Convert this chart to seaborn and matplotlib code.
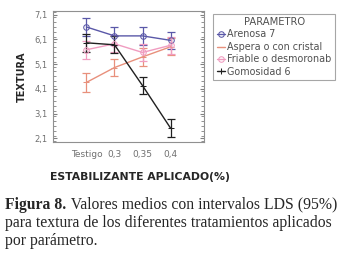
import pandas as pd
import matplotlib.pyplot as plt
import seaborn as sns
import numpy as np
from matplotlib.ticker import MultipleLocator, FixedLocator

# data
tratamientos = ['Testigo', '0,3', '0,35', '0,4']
parametros = ['Arenosa 7', 'Aspera o con cristal', 'Friable o desmoronab', 'Gomosidad 6']
arenosa = [6.60, 6.24, 6.24, 6.06]
aspera = [4.36, 4.96, 5.39, 5.80]
friable = [5.68, 5.92, 5.57, 5.86]
gomosidad = [5.96, 5.88, 4.23, 2.51]
lds = [0.37, 0.35, 0.36, 0.35]

colores = ['#5a58a8', '#e8907c', '#f09cc0', '#202020']
marcadores = ['o', '_', 'o', '+']

df = pd.DataFrame({
    'tratamiento': tratamientos * 4,
    'parametro': np.repeat(parametros, 4),
    'textura': arenosa + aspera + friable + gomosidad,
})

sns.set_style('white')
fig = plt.figure(figsize=(3.62, 2.6), dpi=100)
ax = fig.add_axes([0.146, 0.454, 0.418, 0.504])

for i, p in enumerate(parametros):
    sub = df[df['parametro'] == p]
    ax.errorbar(sub['tratamiento'], sub['textura'], yerr=lds, fmt='none',
                ecolor=colores[i], elinewidth=0.9, capsize=3, capthick=0.9, zorder=2)
    sns.lineplot(data=sub, x='tratamiento', y='textura', color=colores[i],
                 marker=marcadores[i], markersize=4, linewidth=1, ax=ax,
                 markeredgecolor=colores[i], markerfacecolor='none' if marcadores[i] == 'o' else colores[i],
                 sort=False, label=p, legend=False, zorder=3)

ax.set_xlim(-1.2, 4.2)
ax.set_ylim(1.95, 7.25)
ax.yaxis.set_major_locator(FixedLocator([2.1, 3.1, 4.1, 5.1, 6.1, 7.1]))
ax.set_yticklabels(['2,1', '3,1', '4,1', '5,1', '6,1', '7,1'])
ax.yaxis.set_minor_locator(MultipleLocator(0.2))
ax.tick_params(axis='y', which='both', left=True, right=True, direction='in', length=2,
               labelsize=6, labelcolor='#707070', color='#808080')
ax.tick_params(axis='y', which='major', length=3)
ax.tick_params(axis='x', labelsize=6.5, labelcolor='#707070', bottom=False, pad=2)
for s in ax.spines.values():
    s.set_color('#909090')
    s.set_linewidth(0.8)

ax.set_xlabel('')
ax.set_ylabel('TEXTURA', fontsize=7, fontweight='bold', labelpad=6)

fig.text(0.386, 0.318, 'ESTABILIZANTE APLICADO(%)', fontsize=7.8, fontweight='bold',
         ha='center', va='center')

leg = ax.legend(title='PARAMETRO', loc='upper left', bbox_to_anchor=(1.03, 1.015),
                fontsize=6.9, title_fontsize=7.2, frameon=True, fancybox=False,
                handlelength=0.8, handletextpad=0.3, borderpad=0.35, labelspacing=0.25)
leg.get_frame().set_edgecolor('#909090')
leg.get_frame().set_linewidth(0.8)
for t in leg.get_texts():
    t.set_color('#505050')
leg.get_title().set_color('#505050')

# caption
serif = 'Liberation Serif'
fs = 11.3
fig.canvas.draw()
r = fig.canvas.get_renderer()
t0 = fig.text(0.015, 0.212, 'Figura 8.', fontsize=fs, family=serif, fontweight='bold',
              ha='left', va='center')
bb = t0.get_window_extent(renderer=r)
fig.text(bb.x1 / fig.bbox.width, 0.212, ' Valores medios con intervalos LDS (95%)',
         fontsize=fs, family=serif, ha='left', va='center')
fig.text(0.015, 0.142, 'para textura de los diferentes tratamientos aplicados',
         fontsize=fs, family=serif, ha='left', va='center')
fig.text(0.015, 0.073, 'por parámetro.', fontsize=fs, family=serif,
         ha='left', va='center')

fig.savefig('out.png', dpi=100)
